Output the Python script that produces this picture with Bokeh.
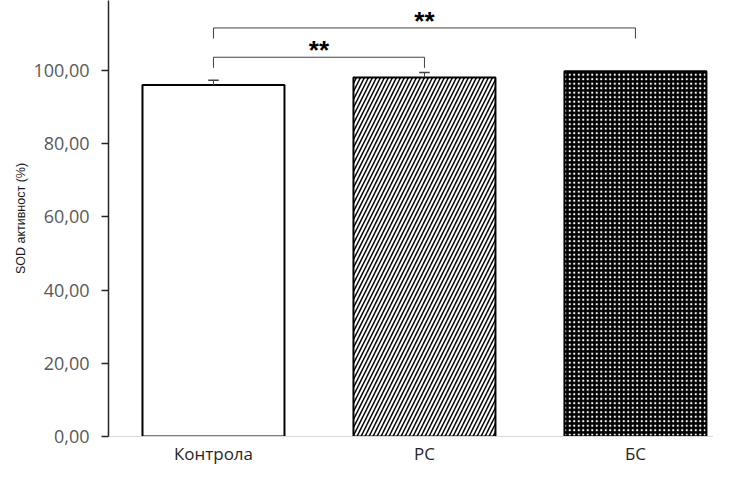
from bokeh.plotting import figure
from bokeh.models import ColumnDataSource, FixedTicker, Range1d
from bokeh.core.properties import value
from bokeh.embed import file_html
from bokeh.resources import INLINE

categories = ["Контрола", "РС", "БС"]
means = [96.0, 98.1, 99.8]
errors = [1.3, 1.3, 0.0]
y_ticks = [0, 20, 40, 60, 80, 100]
y_tick_labels = ["0,00", "20,00", "40,00", "60,00", "80,00", "100,00"]
# significance comparisons: (from index, to index, label)
comparisons = [(0, 1, "**"), (0, 2, "**")]

x = list(range(len(categories)))

p = figure(frame_width=605, frame_height=436, output_backend="svg", toolbar_location=None,
           x_range=Range1d(-0.4976, 2.37), y_range=Range1d(0, 119.1),
           min_border_left=108, min_border_right=0, min_border_top=0,
           min_border_bottom=27)
p.title.visible = False
p.outline_line_color = None
p.xgrid.visible = False
p.ygrid.visible = False

styles = [
    dict(fill_color="white"),
    dict(fill_color="white", hatch_pattern="right_diagonal_line", hatch_color="black",
         hatch_scale=8, hatch_weight=1.5),
    dict(fill_color="black", hatch_pattern="dot", hatch_color="white",
         hatch_scale=4.5, hatch_weight=1.2),
]
for i, st in enumerate(styles):
    src = ColumnDataSource(dict(x=[x[i]], top=[means[i]]))
    p.vbar(x="x", top="top", width=0.673, bottom=0, source=src,
           line_color="black", line_width=2, **st)

# error bars (plus only)
ex = [xi for xi, e in zip(x, errors) if e > 0]
ey0 = [m for m, e in zip(means, errors) if e > 0]
ey1 = [m + e for m, e in zip(means, errors) if e > 0]
p.segment(x0=ex, y0=ey0, x1=ex, y1=ey1, line_color="#404040", line_width=1)
p.segment(x0=[v - 0.025 for v in ex], y0=ey1, x1=[v + 0.025 for v in ex], y1=ey1,
          line_color="#404040", line_width=1.5)

# significance brackets
bracket_levels = [103.6, 111.6]
drop = 2.9
star_offset = 2.0
for (a, b, lab), lvl in zip(comparisons, bracket_levels):
    p.line(x=[x[a], x[a], x[b], x[b]], y=[lvl - drop, lvl, lvl, lvl - drop],
           line_color="#404040", line_width=1)
    p.text(x=[(x[a] + x[b]) / 2], y=[lvl + star_offset], text=[lab],
           text_font=value("Liberation Sans"), text_font_style="bold",
           text_font_size="26px", text_align="center", text_baseline="middle",
           text_color="black")

# axes
p.xaxis.ticker = FixedTicker(ticks=x)
p.xaxis.major_label_overrides = {xi: c for xi, c in zip(x, categories)}
p.xaxis.axis_line_color = "#d9d9d9"
p.xaxis.axis_line_width = 1
p.xaxis.major_tick_line_color = None
p.xaxis.major_tick_out = 0
p.xaxis.major_tick_in = 0
p.xaxis.minor_tick_line_color = None
p.xaxis.minor_tick_out = 0
p.xaxis.major_label_standoff = 5
p.xaxis.major_label_text_font = "Open Sans"
p.xaxis.major_label_text_font_size = "17px"
p.xaxis.major_label_text_color = "#262626"

p.yaxis.ticker = FixedTicker(ticks=y_ticks)
p.yaxis.major_label_overrides = {t: l for t, l in zip(y_ticks, y_tick_labels)}
p.yaxis.axis_line_color = "#262626"
p.yaxis.axis_line_width = 1.5
p.yaxis.major_tick_line_color = "#262626"
p.yaxis.major_tick_line_width = 1.5
p.yaxis.major_tick_out = 7
p.yaxis.major_tick_in = 0
p.yaxis.minor_tick_line_color = None
p.yaxis.major_label_standoff = 12
p.yaxis.major_label_text_font = "Open Sans"
p.yaxis.major_label_text_font_size = "18px"
p.yaxis.major_label_text_color = "#595959"
p.yaxis.axis_label = "SOD активност (%)"
p.yaxis.axis_label_text_font = "Liberation Sans"
p.yaxis.axis_label_text_font_size = "12.5px"
p.yaxis.axis_label_text_font_style = "normal"
p.yaxis.axis_label_text_color = "#1a1a1a"
p.yaxis.axis_label_standoff = 2

open("out.html", "w").write(file_html(p, INLINE))
